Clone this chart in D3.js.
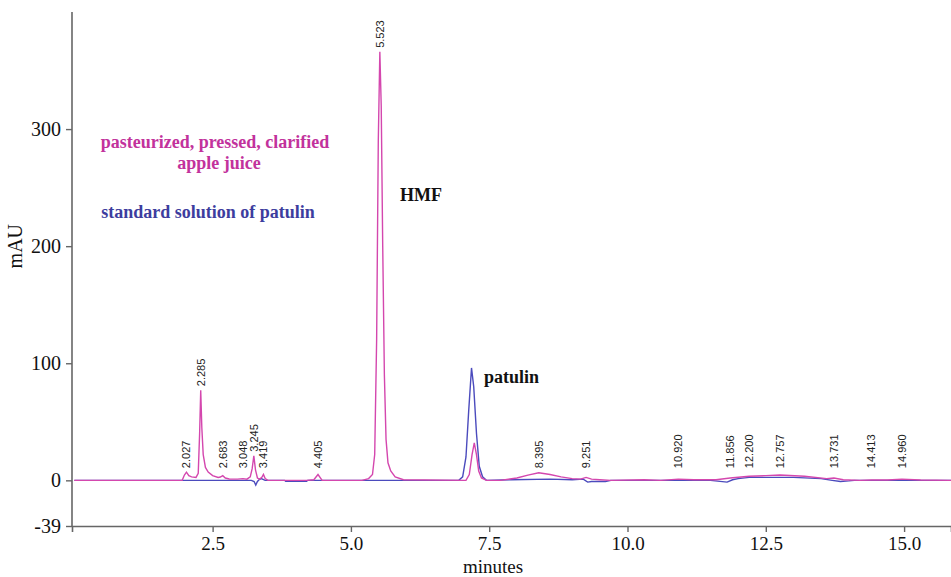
<!DOCTYPE html>
<html>
<head>
<meta charset="utf-8">
<script src="https://cdn.jsdelivr.net/npm/d3@7"></script>
<style>
  html, body { margin: 0; padding: 0; background: #fff; }
  svg { display: block; }
</style>
</head>
<body>
<svg id="chart" width="951" height="577"></svg>
<script>
// Retention time (minutes) and absorbance (mAU) — apple juice sample
const juiceTime = [0, 1.95, 1.99, 2.027, 2.07, 2.12, 2.2, 2.24, 2.265, 2.285, 2.305, 2.33, 2.37, 2.42, 2.5, 2.6, 2.64, 2.683, 2.73, 2.8, 2.95, 3.048, 3.12, 3.18, 3.215, 3.245, 3.275, 3.31, 3.35, 3.39, 3.419, 3.45, 3.5, 3.8, 4.2, 4.33, 4.405, 4.48, 5.2, 5.32, 5.39, 5.43, 5.465, 5.495, 5.523, 5.548, 5.575, 5.605, 5.635, 5.67, 5.72, 5.8, 5.95, 7.08, 7.14, 7.19, 7.23, 7.27, 7.31, 7.36, 7.45, 7.7, 8.0, 8.2, 8.395, 8.6, 8.8, 9.0, 9.15, 9.251, 9.35, 9.5, 9.7, 10.3, 10.6, 10.92, 11.2, 11.6, 11.856, 12.2, 12.5, 12.757, 13.2, 13.6, 13.731, 13.9, 14.2, 14.413, 14.7, 14.96, 15.3, 15.85];
const juiceMAU  = [0, 0, 4.5, 7, 4, 3, 2.5, 6, 40, 77, 45, 22, 11, 7, 4, 2.5, 2.8, 4, 2, 1.2, 1, 1.5, 1, 3, 10, 21, 9, 2, 1, 2.5, 5, 1.5, 0, 0, 0, 0.5, 5, 0, 0, 1.5, 5, 22, 120, 290, 366, 320, 200, 90, 35, 15, 8, 3, 0.5, 0, 5, 22, 32, 22, 8, 2, 0, 0, 2, 4.5, 6.5, 5, 3, 1.5, 1, 2.5, 1, 0.5, 0, 0.5, 0, 1, 0.5, 0.5, 2, 3.5, 4, 4.5, 3.5, 1.5, 2, 0.5, 0, 0.3, 0.3, 1, 0.3, 0];

// Retention time (minutes) and absorbance (mAU) — patulin standard
const standardTime = [0, 3.2, 3.25, 3.28, 3.31, 3.34, 3.38, 3.45, 3.8, 3.82, 4.2, 4.22, 6.95, 7.02, 7.08, 7.13, 7.18, 7.22, 7.27, 7.32, 7.38, 7.45, 7.9, 8.6, 9.0, 9.2, 9.28, 9.35, 9.6, 9.7, 11.5, 11.8, 11.9, 12.0, 12.2, 12.5, 13.0, 13.5, 13.7, 13.85, 14.0, 14.1, 15.85];
const standardMAU  = [0, 0, -1, -4, -1, 0.5, 1.5, 0, 0, -0.8, -0.8, 0, 0, 3, 20, 60, 96, 80, 40, 12, 3, 0, 0.5, 1, 0.5, 1, -1.5, -1, -1, 0, 0, -1.5, 0.5, 1.5, 2.5, 2.5, 2.5, 1.5, 0, -1, -0.5, 0, 0];

// Integrated peak labels: retention time and apex height (mAU)
const peakTimes   = ["2.027", "2.285", "2.683", "3.048", "3.245", "3.419", "4.405", "5.523", "8.395", "9.251", "10.920", "11.856", "12.200", "12.757", "13.731", "14.413", "14.960"];
const peakHeights = [7, 77, 4, 1.5, 21, 5, 5, 366, 6.5, 2.5, 1, 2, 3.5, 4.5, 2, 0.3, 1];

const xTicks = [2.5, 5.0, 7.5, 10.0, 12.5, 15.0];
const yTicks = [-39, 0, 100, 200, 300];

const svg = d3.select("#chart");
const x = d3.scaleLinear().domain([-0.042, 15.848]).range([72, 951]);
const y = d3.scaleLinear().domain([-39, 400]).range([526, 12]);

const serif = "'Liberation Serif', 'Times New Roman', serif";
const axisColor = "#666";

// x axis
const gx = svg.append("g").attr("transform", `translate(0,${y(-39)})`)
  .call(d3.axisBottom(x).tickValues(xTicks).tickFormat(d3.format(".1f")).tickSize(6).tickSizeOuter(6));
// y axis
const gy = svg.append("g").attr("transform", `translate(${x.range()[0]},0)`)
  .call(d3.axisLeft(y).tickValues(yTicks).tickFormat(d => String(d)).tickSize(6).tickSizeOuter(0));

[gx, gy].forEach(g => {
  g.select(".domain").attr("stroke", axisColor).attr("stroke-width", 1.6);
  g.selectAll(".tick line").attr("stroke", axisColor).attr("stroke-width", 1.4);
  g.selectAll(".tick text").attr("fill", "#111").style("font-family", serif).style("font-size", "20px");
});
gx.selectAll(".tick text").style("font-size", "19px").attr("dy", "0.8em");
gy.selectAll(".tick text").attr("dx", "-2px");
// keep the y axis reaching the top of the plot
gy.select(".domain").attr("d", `M0,${y(400)}V${y(-39)}`);

svg.append("text").attr("x", 493).attr("y", 572.5).attr("text-anchor", "middle")
  .style("font-family", serif).style("font-size", "19px").attr("fill", "#111").text("minutes");
svg.append("text").attr("transform", `translate(22,${y(200)}) rotate(-90)`).attr("text-anchor", "middle")
  .style("font-family", serif).style("font-size", "20px").attr("fill", "#111").text("mAU");

const line = d3.line().x(d => x(d[0])).y(d => y(d[1]));

svg.append("path")
  .datum(d3.zip(standardTime, standardMAU))
  .attr("fill", "none").attr("stroke", "#4b4bbd").attr("stroke-width", 1.4)
  .attr("d", line);

svg.append("path")
  .datum(d3.zip(juiceTime, juiceMAU))
  .attr("fill", "none").attr("stroke", "#d447ae").attr("stroke-width", 1.4)
  .attr("d", line);

// retention time labels above peaks
svg.append("g").selectAll("text")
  .data(d3.zip(peakTimes, peakHeights))
  .join("text")
  .attr("transform", d => `translate(${x(+d[0])},${Math.min(y(d[1]), y(7)) - 4}) rotate(-90)`)
  .attr("dy", "0.35em")
  .style("font-family", "'Liberation Sans', Arial, sans-serif")
  .style("font-size", "11px")
  .attr("fill", "#222")
  .text(d => d[0]);

// annotations
function note(txt, px, py, color, anchor) {
  svg.append("text").attr("x", px).attr("y", py).attr("text-anchor", anchor || "middle")
    .style("font-family", serif).style("font-size", "18px").style("font-weight", "bold")
    .attr("fill", color).text(txt);
}
note("pasteurized, pressed, clarified", 215, 148, "#c2329c");
note("apple juice", 219, 169, "#c2329c");
note("standard solution of patulin", 208, 218, "#3d3d9e");
note("HMF", 400, 201, "#111", "start");
note("patulin", 484, 383, "#111", "start");
</script>
</body>
</html>
